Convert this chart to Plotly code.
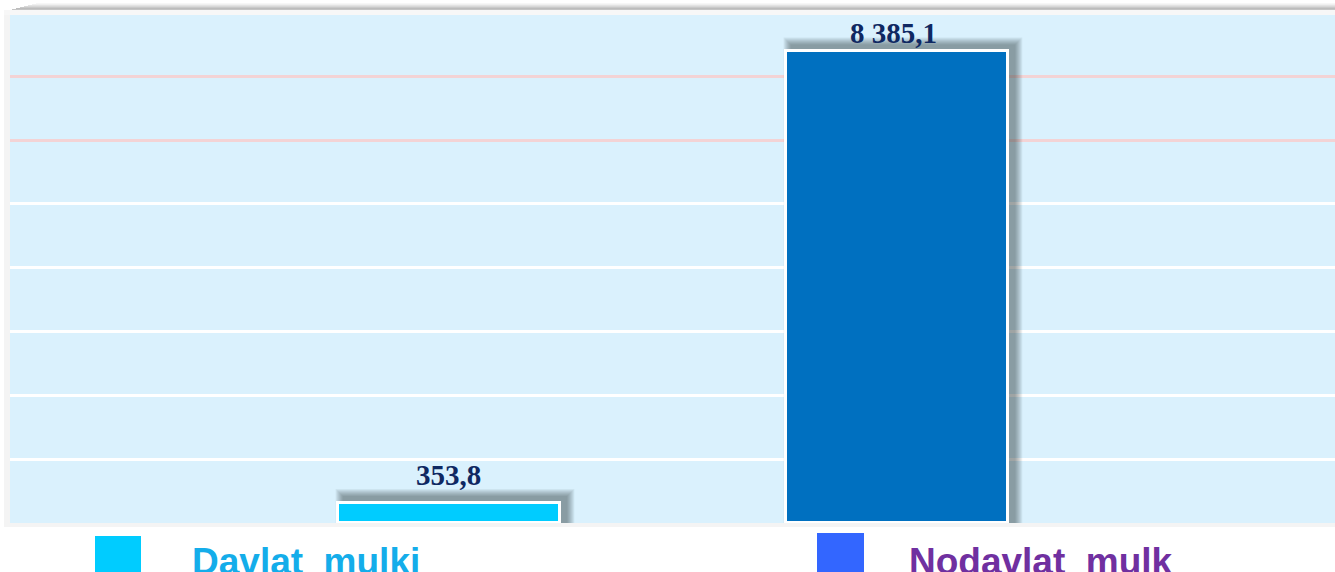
import plotly.graph_objects as go

# ---- data ----
categories = ["Davlat mulki", "Nodavlat mulk"]
values = [353.8, 8385.1]
legend_labels = ["Davlat\u00a0 mulki", "Nodavlat\u00a0 mulk"]

# ---- styling ----
W, H = 1335, 572
ML, MR, MT, MB = 10, 0, 15, 49
PW, PH = W - ML - MR, H - MT - MB
bar_colors = ["#00CCFF", "#0070C0"]
legend_swatch_colors = ["#00CCFF", "#3366FF"]
legend_text_colors = ["#14ADEA", "#7030A0"]
label_color = "#0F2862"
bg = "#DAF1FD"

Y_MAX = 9034
DTICK = 1135
X_LO, X_HI = -0.98, 1.978
BAR_W = 0.497
white_grid = [k * DTICK for k in range(1, 6)]
pink_grid = [k * DTICK for k in (6, 7)]


def fmt(v):
    s = f"{v:,.1f}"
    return s.replace(",", " ").replace(".", ",")


def px_x(p):
    return (p - ML) / PW


def px_y(p):
    return (H - MB - p) / PH


xpu = (X_HI - X_LO) / PW   # x units per pixel
ypu = Y_MAX / PH           # y units per pixel

fig = go.Figure()
fig.add_trace(go.Bar(
    x=list(range(len(categories))), y=values, width=BAR_W,
    marker=dict(color=bar_colors, line=dict(color="white", width=3)),
    hoverinfo="skip", showlegend=False,
))
# invisible trace to carry the overlaid axis with pink gridlines
fig.add_trace(go.Scatter(x=[0], y=[0], yaxis="y2", mode="markers", marker=dict(opacity=0),
                         hoverinfo="skip", showlegend=False))

shapes = []
# frame around plot area
shapes.append(dict(type="rect", xref="paper", yref="paper", x0=px_x(4), x1=px_x(ML), y0=px_y(527), y1=px_y(10),
                   fillcolor="#F4F4F4", line_width=0, layer="below"))
shapes.append(dict(type="rect", xref="paper", yref="paper", x0=px_x(4), x1=px_x(W), y0=px_y(527), y1=px_y(523),
                   fillcolor="#F4F4F4", line_width=0, layer="below"))
shapes.append(dict(type="rect", xref="paper", yref="paper", x0=px_x(4), x1=px_x(W), y0=px_y(15), y1=px_y(10),
                   fillcolor="#F7F7F7", line_width=0, layer="below"))
# top shadow band
for i, op in enumerate([0.04, 0.08, 0.14, 0.2, 0.28, 0.34, 0.3]):
    shapes.append(dict(type="rect", xref="paper", yref="paper",
                       x0=px_x(12 + 4 * (6 - i)), x1=px_x(W), y0=px_y(3 + i + 1), y1=px_y(3 + i),
                       fillcolor=f"rgba(60,60,60,{op})", line_width=0, layer="above"))

# bar shadows
for i, v in enumerate(values):
    for e in range(7, -1, -1):
        shapes.append(dict(type="rect", xref="x", yref="y",
                           x0=i - BAR_W / 2 + (5 - e) * xpu, x1=i + BAR_W / 2 + (7 + e) * xpu,
                           y0=0, y1=v + (7 + e) * ypu,
                           fillcolor="rgba(40,50,60,0.07)", line_width=0, layer="between"))

# legend swatches
sw = [(95, 141, 536), (817, 864, 533)]
for (a, b, t), c in zip(sw, legend_swatch_colors):
    shapes.append(dict(type="rect", xref="paper", yref="paper", x0=px_x(a), x1=px_x(b), y0=px_y(H + 2), y1=px_y(t),
                       fillcolor=c, line_width=0))

annotations = []
label_shift = [10, 0]
for i, v in enumerate(values):
    annotations.append(dict(x=i, y=v, xref="x", yref="y", text=f"<b>{fmt(v)}</b>", showarrow=False,
                            yanchor="bottom", yshift=label_shift[i], xshift=(-3 if i else 0),
                            font=dict(family="Liberation Serif", size=29, color=label_color)))
leg_x = [190, 907]
for lx, t, c in zip(leg_x, legend_labels, legend_text_colors):
    annotations.append(dict(x=px_x(lx), y=px_y(539), xref="paper", yref="paper", xanchor="left", yanchor="top",
                            text=f"<b>{t}</b>", showarrow=False,
                            font=dict(family="Liberation Sans", size=37, color=c)))

fig.update_layout(
    width=W, height=H, margin=dict(l=ML, r=MR, t=MT, b=MB),
    paper_bgcolor="white", plot_bgcolor=bg,
    xaxis=dict(range=[X_LO, X_HI], showgrid=False, showticklabels=False, zeroline=False, showline=False,
               ticks=""),
    yaxis=dict(range=[0, Y_MAX], tickvals=white_grid, showgrid=True, gridcolor="white", gridwidth=2.5,
               showticklabels=False, zeroline=False, showline=False, ticks=""),
    yaxis2=dict(range=[0, Y_MAX], overlaying="y", tickvals=pink_grid, showgrid=True, gridcolor="#F3D3D5",
                gridwidth=2.5, showticklabels=False, zeroline=False, showline=False, ticks=""),
    shapes=shapes, annotations=annotations, showlegend=False, bargap=0,
)
fig.write_html("out.html")
